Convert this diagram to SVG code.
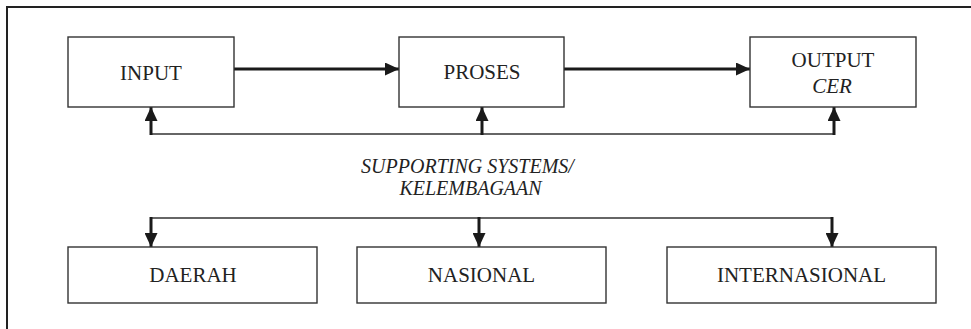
<svg xmlns="http://www.w3.org/2000/svg" width="971" height="329" viewBox="0 0 971 329">
  <style>
    .box { fill: #ffffff; stroke: #333333; stroke-width: 1.4; }
    .lbl { font-family: "Liberation Serif", "Times New Roman", serif; font-size: 21px; fill: #222222; text-anchor: middle; }
    .ital { font-style: italic; }
    .thick { stroke: #1a1a1a; stroke-width: 3; fill: none; }
    .thin { stroke: #333333; stroke-width: 1.5; fill: none; }
    .frame { stroke: #222222; stroke-width: 2; fill: none; }
  </style>
  <defs>
    <marker id="ah" viewBox="0 0 14 13" refX="14" refY="6.5" markerWidth="14" markerHeight="13" markerUnits="userSpaceOnUse" orient="auto">
      <path d="M0,0 L14,6.5 L0,13 z" fill="#1a1a1a"/>
    </marker>
  </defs>
  <rect width="971" height="329" fill="#ffffff"/>
  <g id="frame">
    <path class="frame" d="M7,329 L7,7 L971,7"/>
  </g>
  <g id="connectors">
    <line class="thick" x1="234" y1="69" x2="399" y2="69" marker-end="url(#ah)"/>
    <line class="thick" x1="564" y1="69" x2="750" y2="69" marker-end="url(#ah)"/>
    <line class="thin" x1="151" y1="134" x2="834" y2="134"/>
    <line class="thick" x1="151" y1="135" x2="151" y2="107" marker-end="url(#ah)"/>
    <line class="thick" x1="482" y1="135" x2="482" y2="107" marker-end="url(#ah)"/>
    <line class="thick" x1="834" y1="135" x2="834" y2="107" marker-end="url(#ah)"/>
    <line class="thin" x1="151" y1="218" x2="832" y2="218"/>
    <line class="thick" x1="151" y1="217" x2="151" y2="247" marker-end="url(#ah)"/>
    <line class="thick" x1="479" y1="217" x2="479" y2="247" marker-end="url(#ah)"/>
    <line class="thick" x1="832" y1="217" x2="832" y2="247" marker-end="url(#ah)"/>
  </g>
  <g id="input">
    <rect class="box" x="68" y="37" width="166" height="70"/>
    <text class="lbl" x="151" y="80">INPUT</text>
  </g>
  <g id="proses">
    <rect class="box" x="399" y="37" width="165" height="70"/>
    <text class="lbl" x="482" y="79">PROSES</text>
  </g>
  <g id="output">
    <rect class="box" x="750" y="37" width="166" height="70"/>
    <text class="lbl" x="833" y="67">OUTPUT</text>
    <text class="lbl ital" x="832" y="93">CER</text>
  </g>
  <g id="supporting">
    <text class="lbl ital" x="467.5" y="173" style="font-size:20px">SUPPORTING SYSTEMS/</text>
    <text class="lbl ital" x="470.5" y="195" style="font-size:20px">KELEMBAGAAN</text>
  </g>
  <g id="daerah">
    <rect class="box" x="68" y="247" width="249" height="56"/>
    <text class="lbl" x="193" y="282">DAERAH</text>
  </g>
  <g id="nasional">
    <rect class="box" x="357" y="247" width="249" height="56"/>
    <text class="lbl" x="481.5" y="282">NASIONAL</text>
  </g>
  <g id="internasional">
    <rect class="box" x="667" y="247" width="269" height="56"/>
    <text class="lbl" x="801.5" y="282">INTERNASIONAL</text>
  </g>
</svg>
